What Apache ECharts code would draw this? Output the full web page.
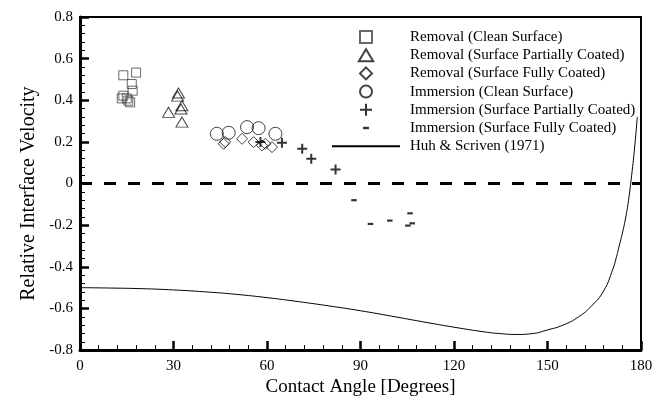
<!DOCTYPE html>
<html>
<head>
<meta charset="utf-8">
<script src="https://cdn.jsdelivr.net/npm/echarts@6/dist/echarts.min.js"></script>
<style>
  html, body { margin: 0; padding: 0; background: #fff; }
  #main { width: 665px; height: 402px; }
</style>
</head>
<body>
<div id="main"></div>
<script>
// contact angle [deg], relative interface velocity
const removalClean = [[13.9, 0.52], [18.0, 0.533], [16.6, 0.478], [16.9, 0.446], [13.9, 0.422], [13.4, 0.409], [15.5, 0.398], [15.0, 0.409], [16.1, 0.39]];
const removalPartial = [[31.6, 0.435], [31.3, 0.42], [28.4, 0.342], [32.7, 0.374], [32.4, 0.358], [32.7, 0.295]];
const removalFully = [[46.1, 0.191], [46.6, 0.2], [52.0, 0.215], [55.7, 0.199], [58.4, 0.183], [59.5, 0.191], [61.6, 0.175]];
const immersionClean = [[43.9, 0.239], [47.7, 0.244], [53.6, 0.271], [57.3, 0.266], [62.7, 0.239]];
const immersionPartial = [[57.9, 0.199], [64.8, 0.196], [71.3, 0.167], [74.2, 0.119], [82.0, 0.068]];
const immersionFully = [[87.9, -0.08], [93.2, -0.194], [99.4, -0.178], [105.9, -0.143], [105.2, -0.202], [106.6, -0.191]];

// Huh & Scriven (1971)
const huhAngle = [0, 10, 20, 30, 40, 50, 60, 70, 80, 90, 100, 110, 120, 130, 135, 140, 145, 150, 155, 160, 164, 168, 171, 172, 173, 174, 175, 176, 177, 178, 178.8];
const huhVel = [-0.5, -0.502, -0.505, -0.511, -0.52, -0.532, -0.548, -0.567, -0.588, -0.611, -0.637, -0.664, -0.69, -0.713, -0.721, -0.725, -0.721, -0.703, -0.68, -0.64, -0.59, -0.516, -0.41, -0.36, -0.3, -0.24, -0.17, -0.08, 0.04, 0.18, 0.32];

const names = [
  'Removal (Clean Surface)',
  'Removal (Surface Partially Coated)',
  'Removal (Surface Fully Coated)',
  'Immersion (Clean Surface)',
  'Immersion (Surface Partially Coated)',
  'Immersion (Surface Fully Coated)',
  'Huh & Scriven (1971)'
];

const font = 'Liberation Serif';
// path symbols keep their shape in the legend
const squarePath = 'path://M0,0L10,0L10,10L0,10Z';
const trianglePath = 'path://M0,10L6,0L12,10Z';
const diamondPath = 'path://M6,0L12,6L6,12L0,6Z';
const plusPath = 'path://M5,0L5,10M0,5L10,5';
const dashPath = 'path://M0,0M10,10M2.5,4L7.5,4L7.5,6L2.5,6Z';

const hollow = { color: 'transparent', borderColor: '#111', borderWidth: 1 };

const chart = echarts.init(document.getElementById('main'), null, { renderer: 'canvas' });

chart.setOption({
  animation: false,
  backgroundColor: '#fff',
  grid: {
    left: 80, right: 24, top: 17, bottom: 48,
    show: true, borderColor: '#000', borderWidth: 2, backgroundColor: 'transparent'
  },
  legend: {
    orient: 'vertical',
    left: 326,
    top: 24,
    itemWidth: 68,
    itemHeight: 12,
    itemGap: 2.2,
    data: names.slice(0, 6).concat([{
      name: names[6],
      itemStyle: { color: 'transparent', borderColor: 'transparent', borderWidth: 0 }
    }]),
    textStyle: { fontFamily: font, fontSize: 15, color: '#000', lineHeight: 16, padding: [0, 0, 0, 5] }
  },
  xAxis: {
    type: 'value',
    min: 0, max: 180, interval: 30,
    name: 'Contact Angle [Degrees]',
    nameLocation: 'middle',
    nameGap: 21,
    nameTextStyle: { fontFamily: font, fontSize: 19, color: '#000' },
    axisLine: { show: true, onZero: false, lineStyle: { color: '#000', width: 3 } },
    axisTick: { show: true, inside: true, length: 9, lineStyle: { color: '#000', width: 2.5 } },
    minorTick: { show: true, splitNumber: 5, length: 5, lineStyle: { color: '#000', width: 1 } },
    splitLine: { show: false },
    axisLabel: { fontFamily: font, fontSize: 15, color: '#000', margin: 8 }
  },
  yAxis: {
    type: 'value',
    min: -0.8, max: 0.8, interval: 0.2,
    name: 'Relative Interface Velocity',
    nameLocation: 'middle',
    nameGap: 34,
    nameTextStyle: { fontFamily: font, fontSize: 20, color: '#000', padding: [0, 20, 0, 0] },
    axisLine: { show: true, onZero: false, lineStyle: { color: '#000', width: 3 } },
    axisTick: { show: true, inside: true, length: 9, lineStyle: { color: '#000', width: 2.5 } },
    minorTick: { show: true, splitNumber: 5, length: 5, lineStyle: { color: '#000', width: 1 } },
    splitLine: { show: false },
    axisLabel: { fontFamily: font, fontSize: 15, color: '#000', margin: 7 }
  },
  series: [
    { name: names[0], type: 'scatter', symbol: squarePath, symbolSize: 9, itemStyle: Object.assign({}, hollow, { borderColor: '#444' }), data: removalClean },
    { name: names[1], type: 'scatter', symbol: trianglePath, symbolSize: [12, 10], itemStyle: hollow, data: removalPartial },
    { name: names[2], type: 'scatter', symbol: diamondPath, symbolSize: 11, itemStyle: hollow, data: removalFully },
    { name: names[3], type: 'scatter', symbol: 'circle', symbolSize: 13, itemStyle: hollow, data: immersionClean },
    { name: names[4], type: 'scatter', symbol: plusPath, symbolSize: 10, itemStyle: { color: 'transparent', borderColor: '#000', borderWidth: 2 }, data: immersionPartial },
    { name: names[5], type: 'scatter', symbol: dashPath, symbolSize: 11, itemStyle: { color: '#000', borderWidth: 0 }, data: immersionFully },
    {
      name: names[6], type: 'line', smooth: true, symbol: 'none', showSymbol: false,
      lineStyle: { color: '#000', width: 1 },
      itemStyle: { color: '#000' },
      data: huhAngle.map((a, i) => [a, huhVel[i]]),
      markLine: {
        silent: true, symbol: 'none', label: { show: false },
        lineStyle: { color: '#000', width: 3, type: [12, 12] },
        data: [{ yAxis: 0 }]
      }
    }
  ]
});
</script>
</body>
</html>
